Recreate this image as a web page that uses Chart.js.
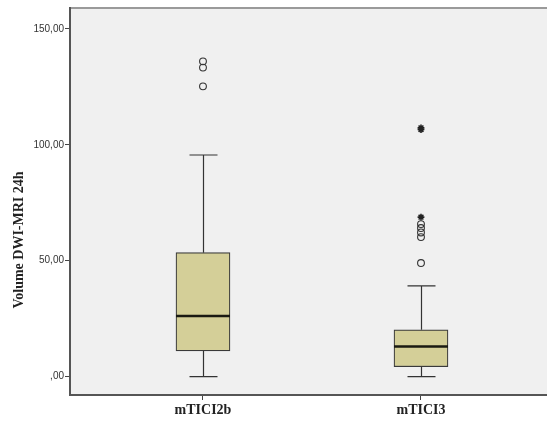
<!DOCTYPE html>
<html>
<head>
<meta charset="utf-8">
<script src="https://cdn.jsdelivr.net/npm/chart.js@4"></script>
<style>
    html, body { margin: 0; padding: 0; background: #ffffff; }
    #wrap { width: 547px; height: 421px; }
</style>
</head>
<body>
<div id="wrap"><canvas id="grafico" width="547" height="421"></canvas></div>
<script>
// categorias e estatisticas
const categorias = ["mTICI2b", "mTICI3"];
const posicoes = [1, 2];
const minimos = [0, 0];
const quartil1 = [11.1, 4.3];
const medianas = [26.2, 13.0];
const quartil3 = [53.5, 20.2];
const maximos = [95.6, 39.2];

// valores atipicos (circulos) e extremos (estrelas)
const atipicos2b = [136, 133.3, 125.2];
const atipicos3 = [65.8, 64.1, 62.2, 60.2, 49];
const extremos3 = [107.3, 106.6, 68.8];

const yTicks = [0, 50, 100, 150];
const yTickLabels = [",00", "50,00", "100,00", "150,00"];

const fundoPlot = {
    id: "fundoPlot",
    beforeDraw(chart) {
        const { ctx, chartArea: a } = chart;
        ctx.save();
        ctx.fillStyle = "#f0f0f0";
        ctx.fillRect(a.left, a.top, a.right - a.left, a.bottom - a.top);
        ctx.strokeStyle = "#9a9a9a";
        ctx.lineWidth = 2;
        ctx.beginPath();
        ctx.moveTo(a.left, a.top);
        ctx.lineTo(a.right, a.top);
        ctx.stroke();
        ctx.restore();
    }
};

const caixas = {
    id: "caixas",
    beforeDatasetsDraw(chart) {
        const { ctx, scales: { x, y } } = chart;
        ctx.save();
        ctx.strokeStyle = "#333333";
        ctx.lineWidth = 1.2;
        posicoes.forEach((p, i) => {
            const cx = Math.round(x.getPixelForValue(p)) + 0.5;
            const meia = 14;
            ctx.beginPath();
            ctx.moveTo(cx, y.getPixelForValue(quartil3[i]));
            ctx.lineTo(cx, y.getPixelForValue(maximos[i]));
            ctx.moveTo(cx, y.getPixelForValue(quartil1[i]));
            ctx.lineTo(cx, y.getPixelForValue(minimos[i]));
            ctx.moveTo(cx - meia, y.getPixelForValue(maximos[i]));
            ctx.lineTo(cx + meia, y.getPixelForValue(maximos[i]));
            ctx.moveTo(cx - meia, y.getPixelForValue(minimos[i]));
            ctx.lineTo(cx + meia, y.getPixelForValue(minimos[i]));
            ctx.stroke();
        });
        ctx.restore();
    },
    afterDatasetsDraw(chart) {
        const { ctx, scales: { x, y } } = chart;
        ctx.save();
        ctx.strokeStyle = "#1a1a12";
        ctx.lineWidth = 2.5;
        posicoes.forEach((p, i) => {
            const cx = x.getPixelForValue(p);
            const yy = y.getPixelForValue(medianas[i]);
            ctx.beginPath();
            ctx.moveTo(cx - 27, yy);
            ctx.lineTo(cx + 27, yy);
            ctx.stroke();
        });
        ctx.restore();
    }
};

const tituloY = {
    id: "tituloY",
    afterDraw(chart) {
        const { ctx } = chart;
        ctx.save();
        ctx.translate(19, 240);
        ctx.rotate(-Math.PI / 2);
        ctx.font = "bold 14px 'Liberation Serif'";
        ctx.fillStyle = "#222222";
        ctx.textAlign = "center";
        ctx.textBaseline = "middle";
        ctx.fillText("Volume DWI-MRI 24h", 0, 0);
        ctx.restore();
    }
};

const pontosOutlier = (valores, pos) => valores.map((v) => ({ x: pos, y: v }));

new Chart(document.getElementById("grafico"), {
    type: "bar",
    data: {
        datasets: [
            {
                label: "Caixas",
                data: posicoes.map((p, i) => ({ x: p, y: [quartil1[i], quartil3[i]] })),
                backgroundColor: "#d4cf98",
                borderColor: "#3a3a3a",
                borderWidth: 1.2,
                borderSkipped: false,
                barThickness: 54
            },
            {
                type: "scatter",
                label: "Atipicos",
                data: pontosOutlier(atipicos2b, posicoes[0]).concat(pontosOutlier(atipicos3, posicoes[1])),
                pointStyle: "circle",
                pointRadius: 3.4,
                backgroundColor: "rgba(0,0,0,0)",
                borderColor: "#333333",
                borderWidth: 1.1
            },
            {
                type: "scatter",
                label: "Extremos",
                data: pontosOutlier(extremos3, posicoes[1]),
                pointStyle: "star",
                pointRadius: 3.4,
                borderColor: "#222222",
                borderWidth: 1.6
            }
        ]
    },
    options: {
        responsive: false,
        animation: false,
        layout: { autoPadding: false, padding: { top: 8, right: 0, left: 0, bottom: 0 } },
        plugins: {
            legend: { display: false },
            tooltip: { enabled: false }
        },
        scales: {
            x: {
                type: "linear",
                offset: false,
                min: 0.39,
                max: 2.578,
                afterBuildTicks: (escala) => {
                    escala.ticks = posicoes.map((p) => ({ value: p }));
                },
                afterFit: (escala) => {
                    escala.height = 26;
                    escala.paddingLeft = 0;
                    escala.paddingRight = 0;
                },
                ticks: {
                    callback: (valor) => categorias[posicoes.indexOf(valor)] || "",
                    color: "#222222",
                    padding: 2,
                    maxRotation: 0,
                    font: { family: "'Liberation Serif'", size: 14, weight: "bold" }
                },
                grid: {
                    offset: false,
                    drawOnChartArea: false,
                    drawTicks: true,
                    tickLength: 5,
                    tickColor: "#444444"
                },
                border: { display: true, color: "#555555", width: 2 }
            },
            y: {
                min: -7.9,
                max: 159,
                afterBuildTicks: (escala) => {
                    escala.ticks = yTicks.map((v) => ({ value: v }));
                },
                afterFit: (escala) => { escala.width = 70; },
                ticks: {
                    callback: (valor) => yTickLabels[yTicks.indexOf(valor)],
                    color: "#333333",
                    padding: 1,
                    font: { family: "'Liberation Sans'", size: 10 }
                },
                grid: {
                    drawOnChartArea: false,
                    drawTicks: true,
                    tickLength: 5,
                    tickColor: "#444444"
                },
                border: { display: true, color: "#555555", width: 2 }
            }
        }
    },
    plugins: [fundoPlot, caixas, tituloY]
});
</script>
</body>
</html>
